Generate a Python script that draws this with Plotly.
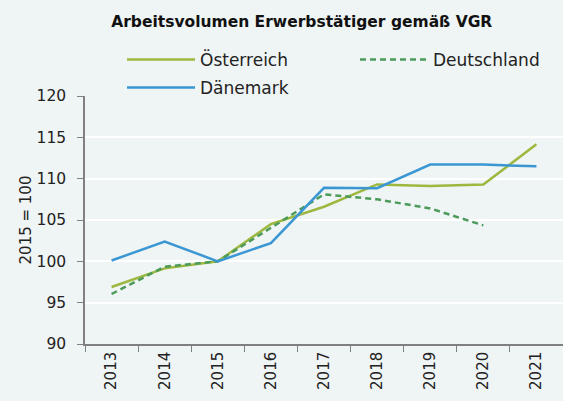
import plotly.graph_objects as go

years = ["2013", "2014", "2015", "2016", "2017", "2018", "2019", "2020", "2021"]
oesterreich = [96.9, 99.15, 100.0, 104.5, 106.6, 109.3, 109.1, 109.3, 114.15]
deutschland = [96.05, 99.35, 100.0, 104.1, 108.1, 107.5, 106.4, 104.35, None]
daenemark = [100.1, 102.4, 100.0, 102.2, 108.9, 108.85, 111.7, 111.7, 111.5]

y_ticks = [90, 95, 100, 105, 110, 115, 120]

FONT = "DejaVu Sans"
BG = "#EFF4F4"

fig = go.Figure()
fig.add_trace(go.Scatter(x=years, y=oesterreich, name="Österreich", mode="lines",
                         line=dict(color="#9CB83F", width=2.5), legend="legend"))
fig.add_trace(go.Scatter(x=years, y=deutschland, name="Deutschland", mode="lines",
                         line=dict(color="#4C9B5A", width=2.5, dash="6px,4px"), legend="legend"))
fig.add_trace(go.Scatter(x=years, y=daenemark, name="Dänemark", mode="lines",
                         line=dict(color="#3B97D3", width=2.5), legend="legend2"))

leg_common = dict(orientation="h", xanchor="left", yanchor="middle",
                  xref="container", yref="container",
                  bgcolor="rgba(0,0,0,0)", itemwidth=68,
                  font=dict(size=17, color="#222222"))

fig.update_layout(
    width=563, height=401,
    paper_bgcolor=BG, plot_bgcolor=BG,
    margin=dict(l=85, r=0, t=96, b=57, autoexpand=False),
    font=dict(family=FONT, size=15, color="#222222"),
    title=dict(text="<b>Arbeitsvolumen Erwerbstätiger gemäß VGR</b>",
               x=0.536, xanchor="center", xref="container",
               y=1 - 22 / 401, yanchor="middle", yref="container",
               font=dict(size=15.5, color="#111111")),
    showlegend=True,
    legend=dict(x=122 / 563, y=1 - 60 / 401, entrywidth=150, entrywidthmode="pixels",
                **leg_common),
    legend2=dict(x=122 / 563, y=1 - 88 / 401, **leg_common),
    xaxis=dict(type="category", range=[-0.5, 8.5], tickson="boundaries",
               ticks="outside", ticklen=6, tickcolor="#808080",
               showline=True, linecolor="#808080", linewidth=1.5, automargin=False,
               showgrid=False, tickangle=-90, tickfont=dict(size=15)),
    yaxis=dict(range=[90, 120], tickvals=y_ticks, ticks="outside", ticklen=6,
               tickcolor="#808080", showline=True, linecolor="#808080", linewidth=1.5,
               showgrid=True, gridcolor="#FFFFFF", gridwidth=1.5, zeroline=False,
               automargin=False, ticklabelstandoff=8,
               title=dict(text="2015 = 100", standoff=1, font=dict(size=15)),
               tickfont=dict(size=15.5)),
)

fig.write_html("out.html", config={"displayModeBar": False},
               post_script="document.body.style.margin='0';")
